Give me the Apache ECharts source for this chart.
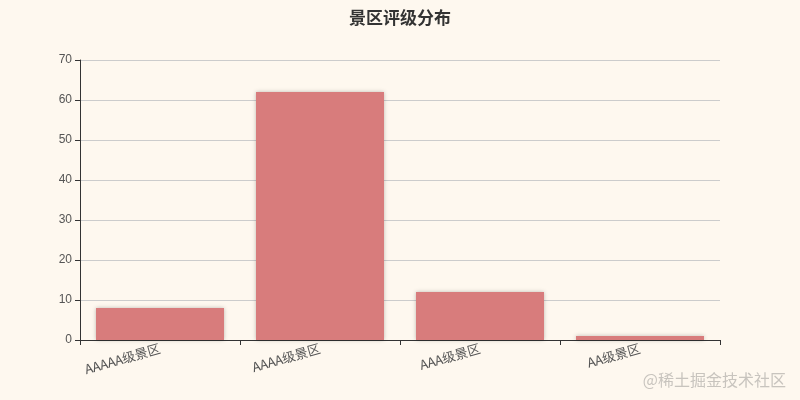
<!DOCTYPE html>
<html>
<head>
<meta charset="utf-8">
<script src="https://cdn.jsdelivr.net/npm/echarts@6/dist/echarts.min.js"></script>
<style>html,body{margin:0;padding:0;background:#fef8ef;}#c{width:800px;height:400px;}</style>
</head>
<body>
<div id="c"></div>
<script>
const categories = ['AAAAA级景区', 'AAAA级景区', 'AAA级景区', 'AA级景区'];
const counts = [8, 62, 12, 1];
const yTicks = { min: 0, max: 70, interval: 10 };
const titleText = '景区评级分布';
const watermarkText = '@稀土掘金技术社区';

const chart = echarts.init(document.getElementById('c'));
chart.setOption({
  backgroundColor: '#fef8ef',
  animation: false,
  title: {
    text: titleText,
    left: 'center',
    top: 4,
    textStyle: { fontSize: 17, fontWeight: 'bold', color: '#333', fontFamily: 'Noto Sans CJK SC' }
  },
  grid: { left: 80, right: 80, top: 60, bottom: 60, containLabel: false },
  xAxis: {
    type: 'category',
    data: categories,
    axisLine: { lineStyle: { color: '#333' } },
    axisTick: { show: true, lineStyle: { color: '#333' } },
    axisLabel: { rotate: 16, color: '#555', fontSize: 13, fontFamily: 'Noto Sans CJK SC', margin: 8 }
  },
  yAxis: {
    type: 'value',
    min: yTicks.min, max: yTicks.max, interval: yTicks.interval,
    axisLine: { show: true, lineStyle: { color: '#333' } },
    axisTick: { show: true, lineStyle: { color: '#333' } },
    axisLabel: { color: '#555', fontSize: 12 },
    splitLine: { lineStyle: { color: '#ccc' } }
  },
  series: [{
    type: 'bar',
    data: counts,
    barCategoryGap: '20%',
    itemStyle: { color: '#d87c7c', shadowBlur: 4, shadowColor: 'rgba(0,0,0,0.25)' }
  }],
  graphic: [{
    type: 'text',
    right: 14,
    bottom: 12,
    style: { text: watermarkText, fill: '#c8c4be', fontSize: 16, fontFamily: 'Noto Sans CJK SC' }
  }]
});
</script>
</body>
</html>
